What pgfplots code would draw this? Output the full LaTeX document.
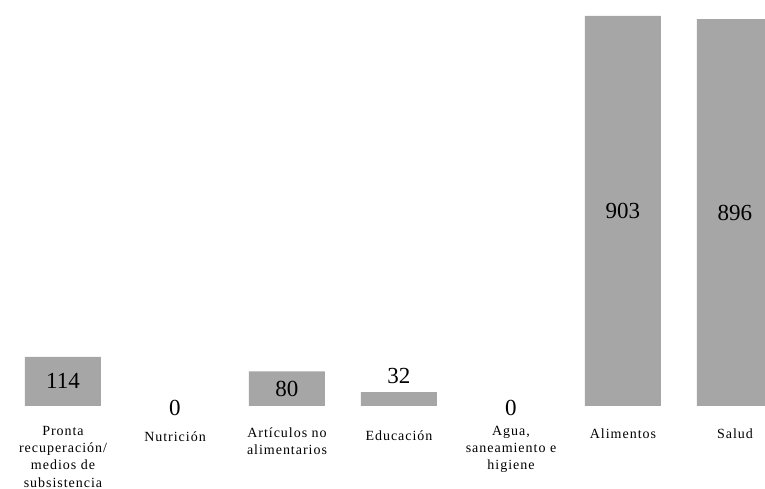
\documentclass[border=0pt]{standalone}
\usepackage{fontspec}
\setmainfont{Liberation Serif}
\usepackage{pgfplots}
\pgfplotsset{compat=1.18}
\definecolor{bargray}{RGB}{166,166,166}
\newcommand{\catfont}{\fontsize{14bp}{17.3bp}\selectfont\addfontfeatures{LetterSpace=7}}
\newcommand{\valfont}{\fontsize{23bp}{27bp}\selectfont}

\begin{document}
\begin{tikzpicture}
\path[use as bounding box] (0,0) rectangle (765bp,489bp);
\begin{axis}[
    at={(0,83bp)}, anchor=south west,
    scale only axis,
    width=765bp, height=406bp,
    xmin=-0.5625, xmax=6.268,
    ymin=0, ymax=940,
    axis line style={draw=none},
    major tick length=0pt,
    ytick=\empty,
    xtick={0,...,6},
    xticklabels={
        {\rule{0pt}{25bp}Pronta\\recuperación/\\medios de\\subsistencia},
        {\rule{0pt}{31bp}Nutrición},
        {\rule{0pt}{27bp}Artículos no\\alimentarios},
        {\rule{0pt}{30bp}Educación},
        {\rule{0pt}{25bp}Agua,\\saneamiento e\\higiene},
        {\rule{0pt}{28bp}Alimentos},
        {\rule{0pt}{28bp}Salud}},
    xticklabel style={anchor=north, yshift=-4bp, inner sep=0pt,
        align=center, font=\catfont},
]
% bars (the two zero categories have no bar)
\addplot[ybar, bar width=76bp, fill=bargray, draw=none]
    coordinates {(0,114) (2,80) (3,32) (5,903) (6,896)};
% values inside the bars (placed at half height)
\addplot[draw=none, mark=none, nodes near coords, point meta=explicit symbolic,
    nodes near coords style={anchor=center, font=\valfont, text=black}]
    coordinates {(0,57)[114] (2,40)[80] (5,451.5)[903] (6,448)[896]};
% value above the small bar
\addplot[draw=none, mark=none, nodes near coords, point meta=explicit symbolic,
    nodes near coords style={anchor=base, yshift=9bp, inner sep=0pt, font=\valfont, text=black}]
    coordinates {(3,32)[32]};
% zero values
\addplot[draw=none, mark=none, nodes near coords, point meta=explicit symbolic,
    nodes near coords style={anchor=base, yshift=-9.5bp, inner sep=0pt, font=\valfont, text=black}]
    coordinates {(1,0)[0] (4,0)[0]};
\end{axis}
\end{tikzpicture}
\end{document}
